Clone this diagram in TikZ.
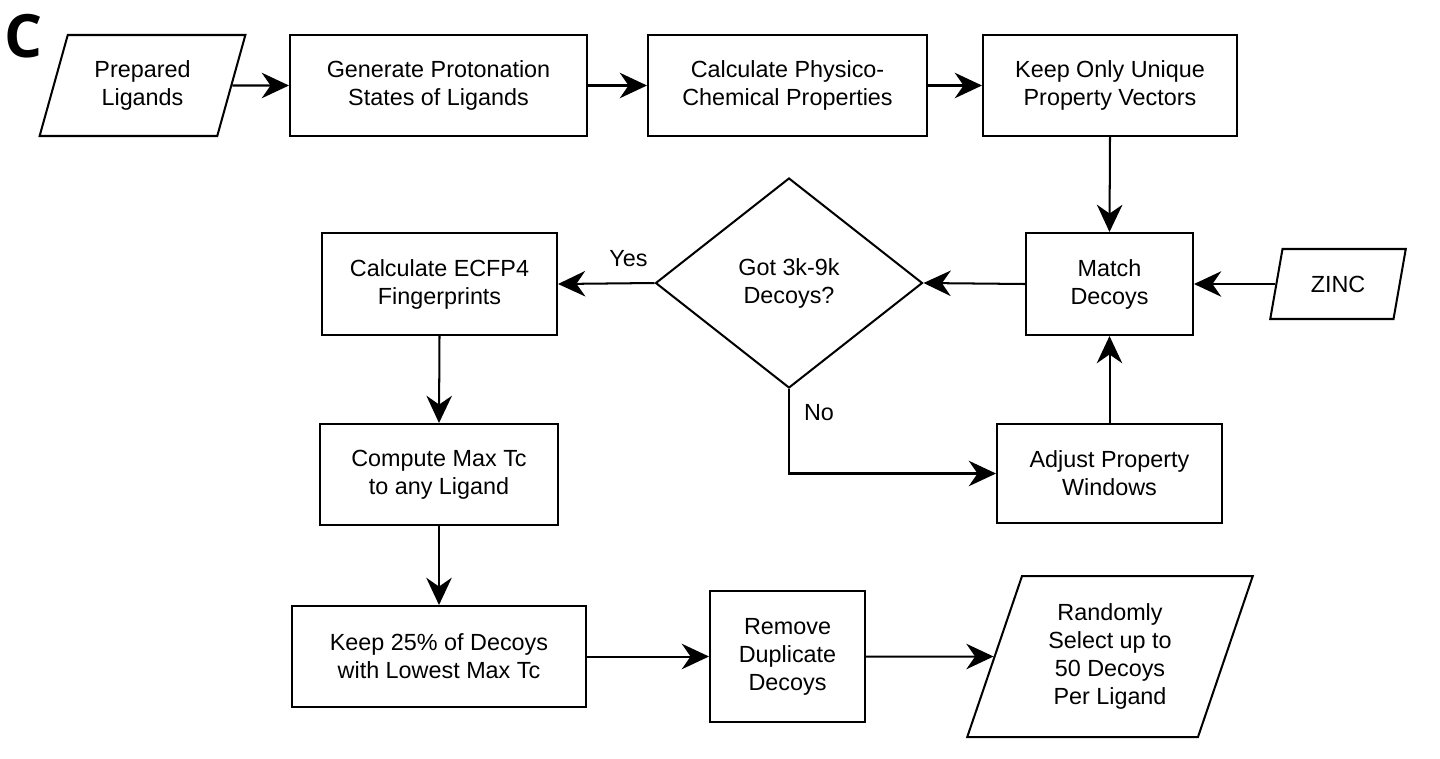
\documentclass[tikz,border=0pt]{standalone}
\usepackage{fontspec}
\setmainfont{Liberation Sans}
\newfontfamily\panelfont{Open Sans}
\usepackage{tikz}
\usetikzlibrary{arrows.meta,shapes.geometric}
\tikzset{>={Stealth[length=15.5pt,width=14.5pt,inset=5pt]}}

\begin{document}
\begin{tikzpicture}[x=0.02cm, y=-0.02cm, line width=1.15pt,
  every node/.style={font=\fontsize{13.3}{15.9}\selectfont, align=center, inner sep=0pt},
  box/.style={draw, rectangle},
  io/.style={draw, trapezium, trapezium left angle=70, trapezium right angle=110,
    trapezium stretches=true},
  test/.style={draw, diamond}]

  \newcommand\px{0.02cm}
  \useasboundingbox (0,0) rectangle (1440,758);

  \node[font=\panelfont\bfseries\fontsize{34}{34}\selectfont] (panel) at (24,36) {C};

  % top row
  \node[io, minimum width=207*\px, minimum height=101*\px] (prep) at (142.5,85.5) {Prepared\\Ligands};
  \node[box, minimum width=297*\px, minimum height=101*\px] (gen) at (438.5,85.5) {Generate Protonation\\States of Ligands};
  \node[box, minimum width=279*\px, minimum height=101*\px] (calc) at (787.5,85.5) {Calculate Physico-\\Chemical Properties};
  \node[box, minimum width=254*\px, minimum height=101*\px] (uniq) at (1110,85.5) {Keep Only Unique\\Property Vectors};

  % matching loop
  \node[box, minimum width=167*\px, minimum height=102*\px] (match) at (1109.5,284) {Match\\Decoys};
  \node[io, minimum width=136*\px, minimum height=70*\px] (zinc) at (1338,284) {ZINC};
  \node[test, minimum width=267*\px, minimum height=210*\px] (enough) at (789,283) {Got 3k-9k\\Decoys?};
  \node[box, minimum width=225*\px, minimum height=99*\px] (adjust) at (1109.5,473.5) {Adjust Property\\Windows};

  % filtering
  \node[box, minimum width=235*\px, minimum height=102*\px] (ecfp) at (439.5,284) {Calculate ECFP4\\Fingerprints};
  \node[box, minimum width=238*\px, minimum height=101*\px] (maxtc) at (439,474.5) {Compute Max Tc\\to any Ligand};
  \node[box, minimum width=294*\px, minimum height=101*\px] (keep) at (439,656.5) {Keep 25\% of Decoys\\with Lowest Max Tc};
  \node[box, minimum width=155*\px, minimum height=131*\px] (dedup) at (787.5,656.5) {Remove\\Duplicate\\Decoys};
  \node[io, minimum width=286*\px, minimum height=161*\px] (pick) at (1110,656.5) {Randomly\\Select up to\\50 Decoys\\Per Ligand};

  \draw[->] (prep.east) -- (gen.west); % prep->gen
  \draw[->] (gen.east) -- (calc.west); % gen->calc
  \draw[->] (calc.east) -- (uniq.west); % calc->uniq
  \draw[->] (uniq.south) -- (match.north); % uniq->match

  \draw[->] (zinc.west) -- (match.east); % zinc->match
  \draw[->] (match.west) -- (enough.east); % match->test
  \draw[->] (enough.west) --
  node[pos=0.27, above=8.8pt]{Yes}
  (ecfp.east); % test->ecfp
  \draw[->] (enough.south) |-
  node[pos=0.14, right=8pt]{No}
  (adjust.west); % test->adjust
  \draw[->] (adjust.north) -- (match.south); % adjust->match

  \draw[->] (ecfp.south) -- (maxtc.north); % ecfp->maxtc
  \draw[->] (maxtc.south) -- (keep.north); % maxtc->keep
  \draw[->] (keep.east) -- (dedup.west); % keep->dedup
  \draw[->] (dedup.east) -- (pick.west); % dedup->pick

\end{tikzpicture}
\end{document}
